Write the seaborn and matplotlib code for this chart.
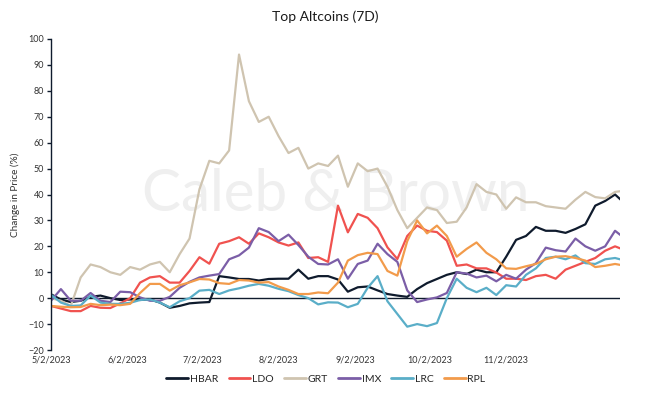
import pandas as pd
import seaborn as sns
from matplotlib import pyplot as plt

start_date = "2023-05-02"
step_days = 4

hbar = [1.5, -0.5, -1.5, -1, 0.5, 1, 0, -0.7, -0.5, -0.7, -0.5, -1.7, -3.7, -3, -2, -1.7, -1.5, 8.5, 8, 7.4,
        7.4, 6.8, 7.4, 7.5, 7.5, 11, 7.5, 8.5, 8.5, 7.2, 2.5, 4.2, 4.5, 3, 1.6, 1, 0.5, 3.5, 5.8, 7.4,
        9, 10, 9.3, 11, 10, 10, 16, 22.5, 24, 27.5, 26, 26, 25.2, 26.7, 28.5, 35.7, 37.5, 40, 36.5]
ldo = [-3, -4, -5, -5, -3, -3.7, -3.8, -2, 0, 6, 8, 8.5, 6, 6, 10.5, 15.8, 13.3, 21, 22, 23.5,
       21, 25, 23.5, 21.5, 20.3, 21.5, 15.5, 15.8, 14, 35.7, 25.4, 32.5, 31, 27, 19.6, 15.1, 24, 28, 26, 25.5,
       22.2, 12.5, 13, 11.5, 11.5, 9.9, 7.5, 7.5, 7, 8.5, 9, 7.5, 11, 12.5, 14, 15.5, 18.3, 20, 18.5]
grt = [0, -1, -3, 8, 13, 12, 10, 9, 12, 11, 13, 14, 10, 17, 23, 42, 53, 52, 57, 94,
       76, 68, 70, 62.5, 56, 58, 50, 52, 51, 55, 43, 52, 49, 50, 43, 34, 27, 31, 35, 34,
       29, 29.5, 35, 44, 41, 40, 34.5, 38.9, 37, 37, 35.5, 35, 34.5, 38, 41, 39, 38.5, 41, 41.5]
imx = [-1, 3.5, -1, -1, 2, -1, -1.5, 2.5, 2.3, 0.3, -1, -1, 0.5, 4, 6.3, 8, 8.7, 9.3, 15, 16.5,
       19.5, 27, 25.5, 22, 24.5, 20.5, 16, 13.2, 13, 15, 7.5, 13.2, 14.5, 21, 17, 14, 3, -1.5, -0.5, 0.3,
       2, 10, 9.5, 8, 8.7, 6.5, 9, 7.5, 11, 13.5, 19.5, 18.5, 18, 23, 20, 18.3, 20, 26, 23]
lrc = [1.3, -1.7, -3, -2.8, 1, -1.7, -2.2, -2.2, -1.8, -0.7, -0.5, -1.7, -3.5, -1.2, 0, 2.9, 3.2, 1.6, 3, 3.8,
       4.8, 5.5, 4.8, 3.6, 2.7, 1.2, 0, -2.4, -1.6, -1.7, -3.5, -2.2, 4, 8.5, -1.2, -6.1, -11, -10, -10.8, -9.6,
       0, 7.5, 4, 2.3, 4, 1.2, 5, 4.5, 9, 11.5, 15.5, 16, 15, 16.5, 13.5, 13.2, 15, 15.5, 14.5]
rpl = [-3, -3.3, -3.5, -3.4, -2.2, -2.7, -2.5, -2.7, -2.2, 2, 5.5, 5.5, 2.9, 5, 6.1, 7.4, 7.2, 5.8, 5.5, 7,
       6.8, 6, 6.2, 4.5, 3.2, 1.6, 1.6, 2.2, 1.9, 6, 14.5, 16.6, 17.5, 17, 10.5, 8.7, 22, 30, 25, 28,
       24, 16, 19, 21.5, 17.5, 15, 11.5, 11.3, 12.3, 13.2, 15, 16, 16.2, 15.5, 14.5, 12, 12.5, 13.2, 12.5]

coins = ["HBAR", "LDO", "GRT", "IMX", "LRC", "RPL"]
colors = ["#0f1b2d", "#f0524f", "#cfc4b0", "#7b5ea7", "#5aaec8", "#f29b4b"]
tick_dates = ["2023-05-02", "2023-06-02", "2023-07-02", "2023-08-02", "2023-09-02", "2023-10-02", "2023-11-02"]
tick_labels = ["5/2/2023", "6/2/2023", "7/2/2023", "8/2/2023", "9/2/2023", "10/2/2023", "11/2/2023"]

dates = pd.date_range(start_date, periods=len(hbar), freq=f"{step_days}D")
df = pd.DataFrame({"date": dates, "HBAR": hbar, "LDO": ldo, "GRT": grt,
                   "IMX": imx, "LRC": lrc, "RPL": rpl})
long = df.melt(id_vars="date", var_name="coin", value_name="change")

sns.set_style("white")
plt.rcParams["font.family"] = ["Lato", "DejaVu Sans"]

fig = plt.figure(figsize=(6.49, 3.96), dpi=100)
ax = fig.add_axes([51 / 649, 1 - 350 / 396, (620 - 51) / 649, (350 - 39) / 396])

# watermark
ax.text(0.5, 0.5, "Caleb & Brown", transform=ax.transAxes, ha="center", va="center",
        fontsize=42, color="#efefef", zorder=0)

ax.axhline(0, color="#0f1b2d", lw=1.0, zorder=1)
sns.lineplot(data=long, x="date", y="change", hue="coin", hue_order=coins,
             palette=dict(zip(coins, colors)), linewidth=1.6, ax=ax, legend=False, zorder=2)

ax.set_xlim(pd.Timestamp(start_date), pd.Timestamp("2023-12-18"))
ax.set_ylim(-20, 100)
ax.set_yticks(range(-20, 101, 10))
ax.set_xticks(pd.to_datetime(tick_dates))
ax.set_xticklabels(tick_labels)
ax.tick_params(axis="x", length=0, labelsize=6.5, labelcolor="#333333", pad=4)
ax.tick_params(axis="y", length=3, width=1, color="#0f1b2d", direction="out",
               labelsize=6.5, labelcolor="#333333", pad=2, left=True)
for s in ["top", "right", "bottom"]:
    ax.spines[s].set_visible(False)
ax.spines["left"].set_color("#0f1b2d")
ax.spines["left"].set_linewidth(1.0)
ax.set_xlabel("")
ax.set_ylabel("Change in Price (%)", fontsize=7.2, color="#333333", labelpad=6)

fig.text(325 / 649, 1 - 17 / 396, "Top Altcoins (7D)", ha="center", va="center",
         fontsize=10, color="#1a1a1a")

handles = [plt.Line2D([], [], color=c, lw=2) for c in colors]
fig.legend(handles, coins, loc="center", bbox_to_anchor=(326 / 649, 1 - 379 / 396), ncol=6,
           frameon=False, fontsize=7.5, handlelength=2.1, handletextpad=0.15, columnspacing=1.0)

fig.savefig("out.png", dpi=100)
